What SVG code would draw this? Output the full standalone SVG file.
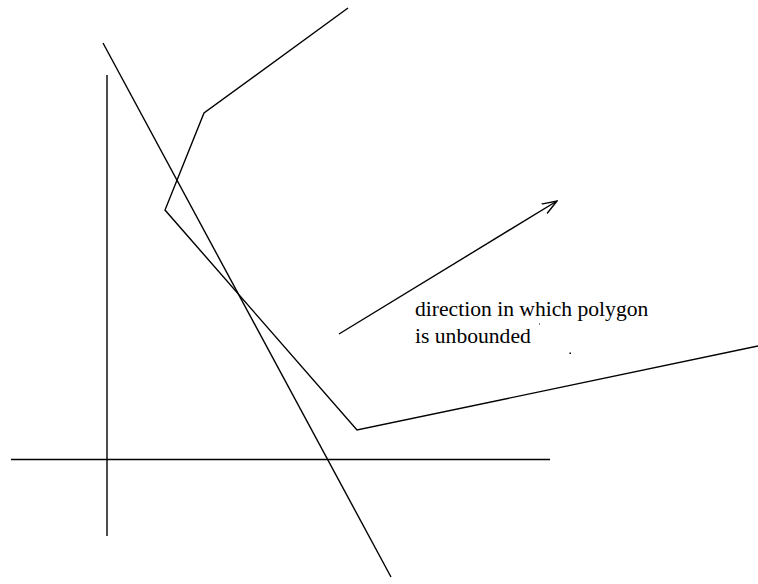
<svg xmlns="http://www.w3.org/2000/svg" width="758" height="584" viewBox="0 0 758 584">
<style>
.ln{fill:none;stroke:#000;stroke-width:1.4;stroke-linejoin:miter;stroke-linecap:butt}
.tx{font-family:"Liberation Serif","Times New Roman",serif;font-size:21.6px;fill:#000}
</style>
<defs>
<marker id="arr" viewBox="0 0 16 12" refX="15" refY="6" markerWidth="16" markerHeight="12" markerUnits="userSpaceOnUse" orient="auto">
<polyline points="0,0.5 15,6 0,11.5" fill="none" stroke="#000" stroke-width="1.4"/>
</marker>
</defs>
<rect width="758" height="584" fill="#fff"/>
<g id="connectors">
<line id="y-axis" class="ln" x1="107" y1="75" x2="107" y2="536"/>
<line id="x-axis" class="ln" x1="11" y1="459.5" x2="550" y2="459.5"/>
<line id="constraint" class="ln" x1="103" y1="43" x2="391" y2="577"/>
<polyline id="polygon" class="ln" points="348,8 204,113 165,210 357,430 758,346"/>
<line id="direction" class="ln" x1="339" y1="334" x2="557" y2="201" marker-end="url(#arr)"/>
</g>
<g id="label">
<text class="tx" x="415" y="316">direction in which polygon</text>
<text class="tx" x="415" y="343">is unbounded</text>
</g>
<rect x="539" y="323.5" width="1" height="1" fill="#000"/>
<rect x="569.5" y="352.5" width="1.5" height="1.5" fill="#000"/>
</svg>
